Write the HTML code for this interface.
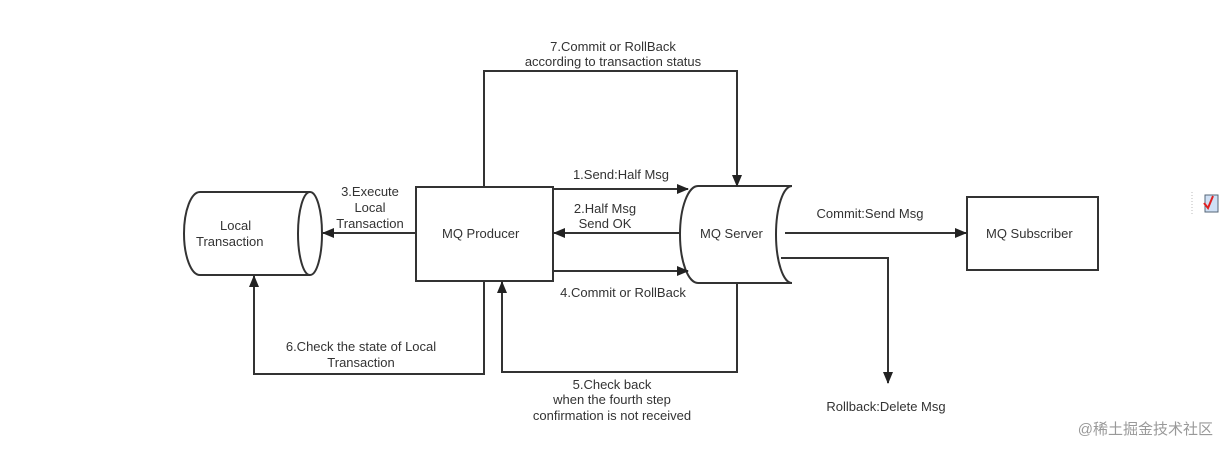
<!DOCTYPE html>
<html><head><meta charset="utf-8"><style>
body{margin:0;background:#fff;}
svg text{font-family:"Liberation Sans","DejaVu Sans",sans-serif;font-size:13px;fill:#333;}
</style></head><body>
<svg width="1228" height="453" viewBox="0 0 1228 453" xmlns="http://www.w3.org/2000/svg">
<defs><marker id="a" markerWidth="12" markerHeight="10" refX="11" refY="5" orient="auto" markerUnits="userSpaceOnUse"><path d="M0,0 L12,5 L0,10 z" fill="#222"/></marker></defs>
<g fill="none" stroke="#333" stroke-width="2">
<path d="M200,192 L310,192 A12,41.5 0 0 1 310,275 L200,275 A16,41.5 0 0 1 200,192 Z" fill="#fff"/>
<path d="M310,192 A12,41.5 0 0 0 310,275"/>
<rect x="416" y="187" width="137" height="94" fill="#fff"/>
<path d="M698,186 L792,186 A16,48.5 0 0 0 792,283 L698,283 A18,48.5 0 0 1 698,186 Z" fill="#fff"/>
<rect x="967" y="197" width="131" height="73" fill="#fff"/>
<line x1="553" y1="189" x2="688" y2="189" marker-end="url(#a)"/>
<line x1="680" y1="233" x2="554" y2="233" marker-end="url(#a)"/>
<line x1="553" y1="271" x2="688" y2="271" marker-end="url(#a)"/>
<line x1="416" y1="233" x2="323" y2="233" marker-end="url(#a)"/>
<polyline points="484,187 484,71 737,71 737,186" marker-end="url(#a)"/>
<polyline points="484,281 484,374 254,374 254,276" marker-end="url(#a)"/>
<polyline points="737,283 737,372 502,372 502,282" marker-end="url(#a)"/>
<line x1="785" y1="233" x2="966" y2="233" marker-end="url(#a)"/>
<polyline points="781,258 888,258 888,383" marker-end="url(#a)"/>
</g>
<text x="220" y="230">Local</text>
<text x="196" y="246">Transaction</text>
<text x="442" y="238">MQ Producer</text>
<text x="700" y="238">MQ Server</text>
<text x="986" y="238">MQ Subscriber</text>
<text x="613" y="51" text-anchor="middle">7.Commit or RollBack</text>
<text x="613" y="66" text-anchor="middle">according to transaction status</text>
<text x="621" y="179" text-anchor="middle">1.Send:Half Msg</text>
<text x="605" y="213" text-anchor="middle">2.Half Msg</text>
<text x="605" y="228" text-anchor="middle">Send OK</text>
<text x="370" y="196" text-anchor="middle">3.Execute</text>
<text x="370" y="212" text-anchor="middle">Local</text>
<text x="370" y="228" text-anchor="middle">Transaction</text>
<text x="623" y="297" text-anchor="middle">4.Commit or RollBack</text>
<text x="361" y="351" text-anchor="middle">6.Check the state of Local</text>
<text x="361" y="367" text-anchor="middle">Transaction</text>
<text x="612" y="389" text-anchor="middle">5.Check back</text>
<text x="612" y="404" text-anchor="middle">when the fourth step</text>
<text x="612" y="420" text-anchor="middle">confirmation is not received</text>
<text x="870" y="218" text-anchor="middle">Commit:Send Msg</text>
<text x="886" y="411" text-anchor="middle">Rollback:Delete Msg</text>
<text x="1213" y="434" text-anchor="end" style="font-family:'Liberation Sans','Noto Sans CJK SC',sans-serif;font-size:15px;fill:#999">@稀土掘金技术社区</text>
<line x1="1192" y1="192" x2="1192" y2="215" stroke="#bbb" stroke-dasharray="1,2"/>
<rect x="1205" y="195" width="13" height="17" fill="#cfe0f5" stroke="#567"/>
<path d="M1204,203 l4,5 l5,-12" stroke="#e02020" stroke-width="2" fill="none"/>
</svg>
</body></html>
